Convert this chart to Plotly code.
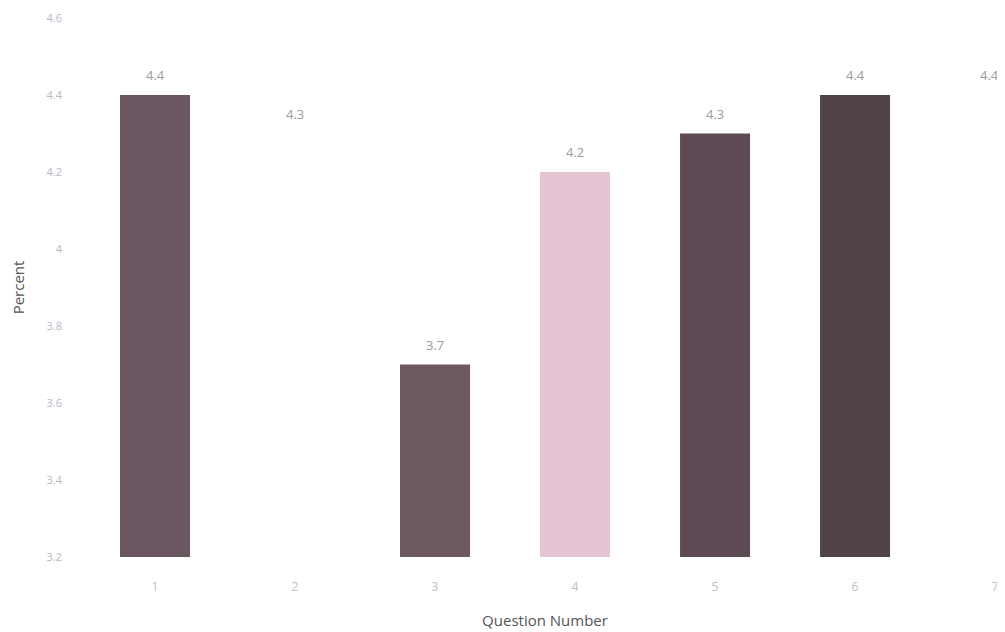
import plotly.graph_objects as go

questions = [1, 2, 3, 4, 5, 6, 7]
scores = [4.4, 4.3, 3.7, 4.2, 4.3, 4.4, 4.4]
labels = ["4.4", "4.3", "3.7", "4.2", "4.3", "4.4", "4.4"]
bar_colors = ["#6a5660", "#ffffff", "#6c5a5e", "#e4c4d3", "#5d4a55", "#4f4249", "#ffffff"]
y_ticks = [3.2, 3.4, 3.6, 3.8, 4.0, 4.2, 4.4, 4.6]
y_tick_text = ["3.2", "3.4", "3.6", "3.8", "4", "4.2", "4.4", "4.6"]

fig = go.Figure(
    go.Bar(
        x=questions,
        y=[s - 3.2 for s in scores],
        base=3.2,
        width=0.5,
        marker=dict(color=bar_colors, line=dict(width=0)),
        hoverinfo="skip",
    )
)

for i, (q, s, lab) in enumerate(zip(questions, scores, labels)):
    fig.add_annotation(
        x=q, y=s, text=lab, showarrow=False, yanchor="bottom", yshift=9,
        xshift=-6 if i == len(questions) - 1 else 0,
        font=dict(family="Open Sans", size=13, color="#a09a9c"),
    )

# page body has an 8px default margin, so the figure is sized to fit the window
fig.update_layout(
    width=997,
    height=624,
    margin=dict(l=77, r=0, t=10, b=75),
    plot_bgcolor="white",
    paper_bgcolor="white",
    showlegend=False,
    font=dict(family="Open Sans"),
    xaxis=dict(
        range=[0.5, 7.071],
        tickmode="array",
        tickvals=questions,
        ticktext=[str(q) for q in questions],
        showgrid=False,
        zeroline=False,
        showline=False,
        ticks="",
        automargin=False,
        ticklabelstandoff=21,
        tickfont=dict(size=12, color="#c4bcc8"),
        title=dict(text="Question Number", font=dict(size=15, color="#555555"), standoff=21),
    ),
    yaxis=dict(
        range=[3.2, 4.6],
        tickmode="array",
        tickvals=y_ticks,
        ticktext=y_tick_text,
        showgrid=False,
        zeroline=False,
        showline=False,
        ticks="",
        automargin=False,
        ticklabelstandoff=22,
        tickfont=dict(size=11, color="#bfb3c4"),
        title=dict(text="Percent", font=dict(size=15, color="#555555"), standoff=19),
    ),
)

fig.write_html("out.html")
